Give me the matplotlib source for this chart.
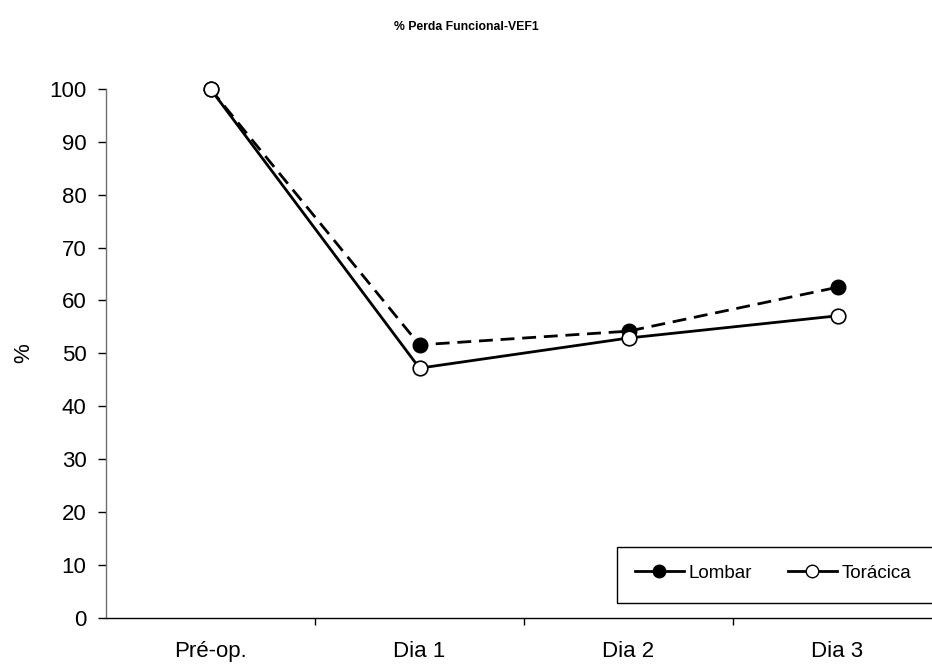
import matplotlib
matplotlib.use("Agg")
import matplotlib.pyplot as plt
from matplotlib.lines import Line2D
from matplotlib.patches import Rectangle

categories = ["Pré-op.", "Dia 1", "Dia 2", "Dia 3"]
lombar = [100, 51.6, 54.2, 62.5]
toracica = [100, 47.2, 52.9, 57.1]
yticks = [0, 10, 20, 30, 40, 50, 60, 70, 80, 90, 100]

plt.rcParams['font.family'] = ['Liberation Sans', 'DejaVu Sans']

W, H = 932, 664
fig = plt.figure(figsize=(W / 100, H / 100), dpi=100)
ax = fig.add_axes([106 / W, 46.3 / H, 836 / W, 528.7 / H])

x = list(range(len(categories)))
ax.plot(x, lombar, color='black', lw=2.0, ls=(0, (5, 2.8)), marker='o', ms=10.5,
        mfc='black', mec='black', zorder=3, clip_on=False)
ax.plot(x, toracica, color='black', lw=2.0, ls='-', marker='o', ms=10.5,
        mfc='white', mec='black', mew=1.2, zorder=4, clip_on=False)

ax.set_xlim(-0.5, 3.5)
ax.set_ylim(0, 100)
ax.set_yticks(yticks)
ax.tick_params(axis='y', labelsize=16, length=6, width=1, direction='out', pad=8)
ax.set_xticks(x)
ax.set_xticklabels(categories, fontsize=16)
ax.tick_params(axis='x', length=0, pad=17)
ax.set_xticks([0.5, 1.5, 2.5], minor=True)
ax.tick_params(axis='x', which='minor', length=5, width=1, direction='out')
for s in ['top', 'right']:
    ax.spines[s].set_visible(False)
ax.spines['left'].set_linewidth(1)
ax.spines['left'].set_color('#707070')
ax.spines['bottom'].set_linewidth(1)
ax.set_ylabel('%', fontsize=16)
ax.yaxis.set_label_coords(-0.086, 0.5)

fig.text(466 / W, 1 - 27 / H, '% Perda Funcional-VEF1', ha='center', va='center',
         fontsize=8.8, fontweight='bold')

handles = [
    Line2D([0], [0], color='black', lw=2, ls='-', marker='o', ms=9, mfc='black', mec='black'),
    Line2D([0], [0], color='black', lw=2, ls='-', marker='o', ms=9, mfc='white', mec='black'),
]
leg = fig.legend(handles, ['Lombar', 'Torácica'], loc='upper left', ncol=2,
                 bbox_to_anchor=(617 / W, 1 - 547 / H), bbox_transform=fig.transFigure,
                 fontsize=13.5, frameon=False,
                 handlelength=2.6, handletextpad=0.27, columnspacing=1.9,
                 borderpad=0.95, borderaxespad=0)
# legend frame that runs past the right edge of the figure, as in the reference
fig.patches.append(Rectangle((617 / W, 1 - 603 / H), 340 / W, 56 / H,
                             transform=fig.transFigure, fill=False,
                             edgecolor='black', linewidth=1, clip_on=False))

fig.savefig('out.png', dpi=100)
